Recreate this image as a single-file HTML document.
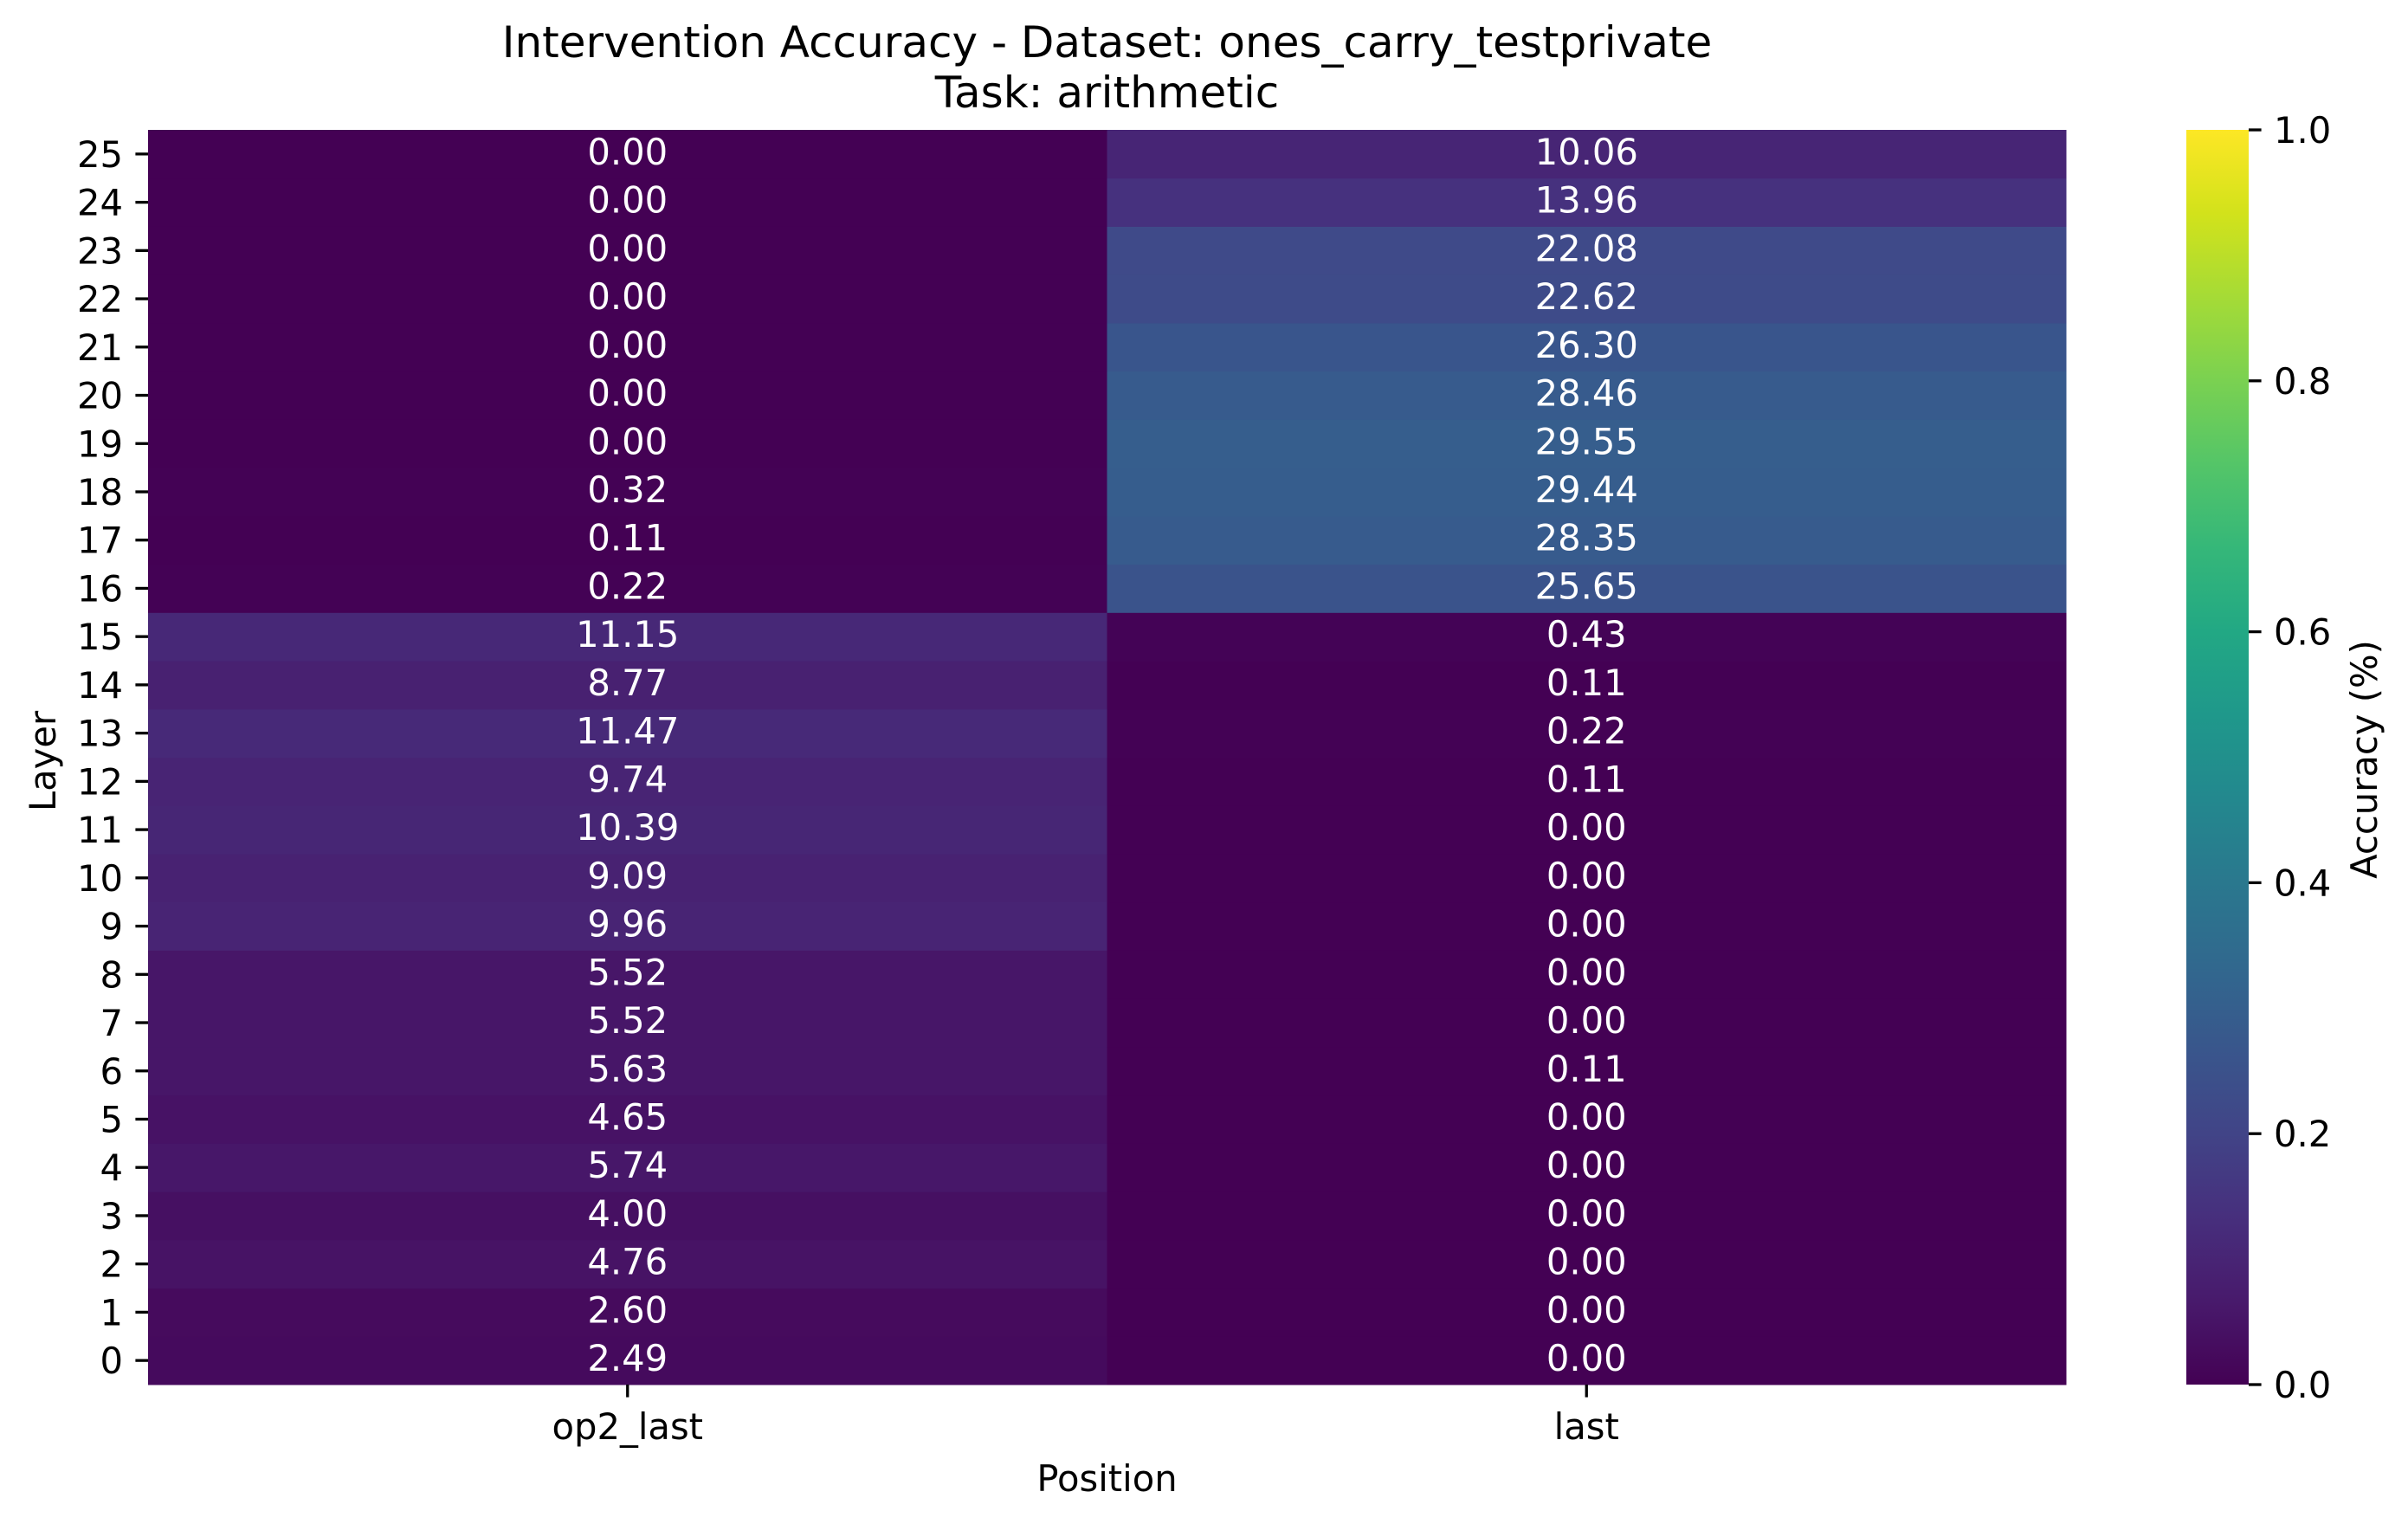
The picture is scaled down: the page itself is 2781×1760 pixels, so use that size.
<!DOCTYPE html>
<html><head><meta charset="utf-8"><style>
html,body{margin:0;padding:0;background:#fff}
svg{display:block;font-family:"DejaVu Sans","Liberation Sans",sans-serif}
</style></head><body>
<svg id="chart" width="2781" height="1760" viewBox="0 0 2781 1760" xmlns="http://www.w3.org/2000/svg">
<defs>
<linearGradient id="viridisGrad" x1="0" y1="1" x2="0" y2="0"></linearGradient>
</defs>
<text x="1278.5" y="66" font-size="50" text-anchor="middle">Intervention Accuracy - Dataset: ones_carry_testprivate</text>
<text x="1278.5" y="124" font-size="50" text-anchor="middle">Task: arithmetic</text>
<g id="cells"></g>
<g id="yaxis"></g>
<g id="xaxis"></g>
<text x="1278.5" y="1722" font-size="41.7" text-anchor="middle">Position</text>
<text transform="translate(64,879) rotate(-90)" font-size="41.7" text-anchor="middle">Layer</text>
<rect x="2525" y="150" width="72" height="1449" fill="url(#viridisGrad)"></rect>
<g id="cbaxis"></g>
<text transform="translate(2745,877) rotate(-90)" font-size="41.7" text-anchor="middle">Accuracy (%)</text>
</svg>
<script>
const positions = ["op2_last", "last"];
const layers = [0,1,2,3,4,5,6,7,8,9,10,11,12,13,14,15,16,17,18,19,20,21,22,23,24,25];
const op2LastValues = [2.49,2.60,4.76,4.00,5.74,4.65,5.63,5.52,5.52,9.96,9.09,10.39,9.74,11.47,8.77,11.15,0.22,0.11,0.32,0.00,0.00,0.00,0.00,0.00,0.00,0.00];
const lastValues = [0.00,0.00,0.00,0.00,0.00,0.00,0.11,0.00,0.00,0.00,0.00,0.00,0.11,0.22,0.11,0.43,25.65,28.35,29.44,29.55,28.46,26.30,22.62,22.08,13.96,10.06];
const cbTicks = [0.0,0.2,0.4,0.6,0.8,1.0];

const VIR = ["#440154","#481a6c","#472f7d","#414487","#39568c","#31688e","#2a788e","#23888e","#1f988b","#22a884","#35b779","#54c568","#7ad151","#a5db36","#d2e21b","#fde725"];
function hex2rgb(h){return [1,3,5].map(i=>parseInt(h.substr(i,2),16));}
function viridis(t){
  t=Math.max(0,Math.min(1,t));
  const p=t*(VIR.length-1), i=Math.min(Math.floor(p),VIR.length-2), f=p-i;
  const a=hex2rgb(VIR[i]), b=hex2rgb(VIR[i+1]);
  return "rgb("+a.map((v,k)=>Math.round(v+(b[k]-v)*f)).join(",")+")";
}
const NS="http://www.w3.org/2000/svg";
const L=171,R=2386,T=150,B=1599;
const colW=(R-L)/positions.length, rowH=(B-T)/layers.length;
const xPos=i=>L+i*colW;
const yPos=i=>B-(i+1)*rowH;
const cbY=v=>1599-v*1449;
function mk(tag,attrs,parent,txt){const e=document.createElementNS(NS,tag);for(const k in attrs)e.setAttribute(k,attrs[k]);if(txt!==undefined)e.textContent=txt;parent.appendChild(e);return e;}

const grad=document.getElementById('viridisGrad');
VIR.forEach((c,i)=>mk('stop',{offset:(i/(VIR.length-1)),'stop-color':c},grad));

const cells=document.getElementById('cells');
const series=[op2LastValues,lastValues];
series.forEach((vals,ci)=>{
  vals.forEach((v,ri)=>{
    const r=mk('rect',{x:xPos(ci),y:yPos(ri),width:colW+0.5,height:rowH+0.5,fill:viridis(v/100)},cells);
    
    
    const t=mk('text',{x:xPos(ci)+colW/2,y:yPos(ri)+rowH/2+12,'font-size':41.7,'text-anchor':'middle',fill:v/100>0.6?'#262626':'#ffffff'},cells,v.toFixed(2));
    
    
  });
});

const ya=document.getElementById('yaxis');
layers.forEach((l,ri)=>{
  const y=yPos(ri)+rowH/2;
  const tk=mk('line',{x1:L-14.6,x2:L,y1:y,y2:y,stroke:'#000','stroke-width':3.3},ya);
  
  
  const t=mk('text',{x:L-29,y:y+15,'font-size':41.7,'text-anchor':'end'},ya,String(l));
  
  
});
const xa=document.getElementById('xaxis');
positions.forEach((p,ci)=>{
  const x=xPos(ci)+colW/2;
  const tk=mk('line',{x1:x,x2:x,y1:B,y2:B+14.6,stroke:'#000','stroke-width':3.3},xa);
  
  
  const t=mk('text',{x:x,y:1662,'font-size':41.7,'text-anchor':'middle'},xa,p);
  
  
});
const cba=document.getElementById('cbaxis');
cbTicks.forEach(v=>{
  const y=cbY(v);
  const tk=mk('line',{x1:2597,x2:2611.6,y1:y,y2:y,stroke:'#000','stroke-width':3.3},cba);
  
  
  const t=mk('text',{x:2626,y:y+15,'font-size':41.7},cba,v.toFixed(1));
  
  
});
</script>
</body></html>
